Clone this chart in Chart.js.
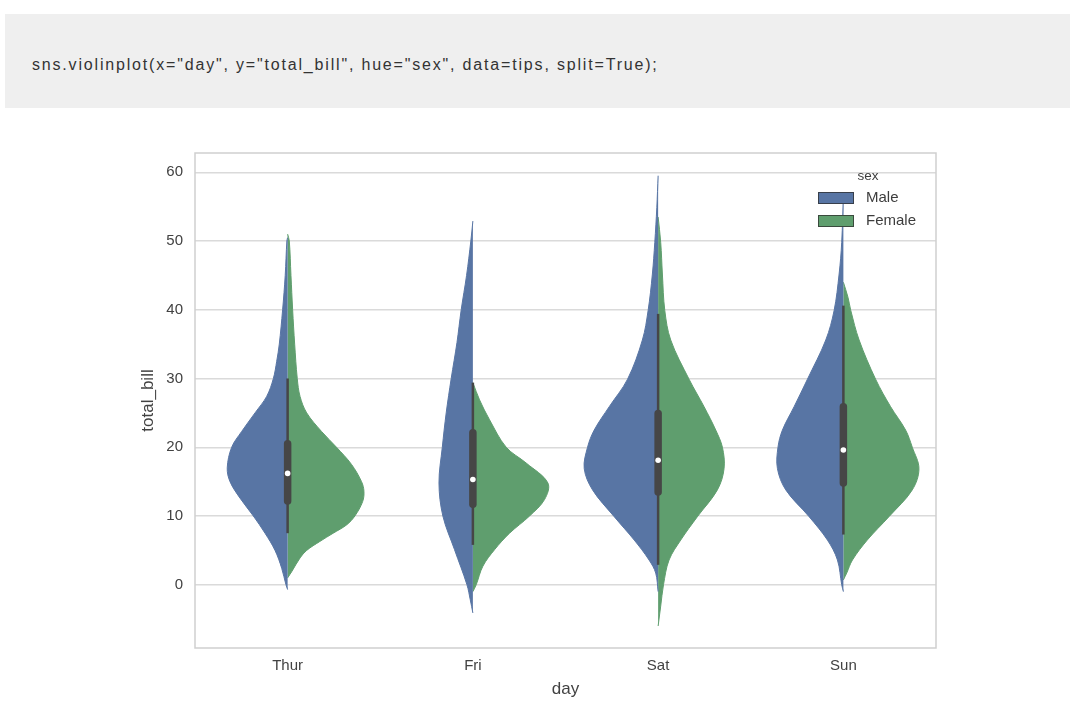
<!DOCTYPE html>
<html>
<head>
<meta charset="utf-8">
<script src="https://cdn.jsdelivr.net/npm/chart.js@4.4.1/dist/chart.umd.min.js"></script>
<style>
  body { margin: 0; background: #fff; width: 1080px; height: 714px; overflow: hidden; position: relative; font-family: "Liberation Sans", Arial, sans-serif; }
  #code { position: absolute; left: 5px; top: 14px; width: 1065px; height: 94px; background: #efefef; }
  #code span { position: absolute; left: 27px; top: 41px; line-height: 20px; font-size: 16px; letter-spacing: 1.82px; color: #333; white-space: pre; }
  #wrap { position: absolute; left: 100px; top: 140px; width: 900px; height: 574px; }
  .lg { position: absolute; color: #3d3d3d; font-size: 15px; line-height: 18px; }
  .patch { position: absolute; width: 34px; height: 10px; border: 1px solid rgba(45,45,45,0.75); }
</style>
</head>
<body>
<div id="code"><span>sns.violinplot(x="day", y="total_bill", hue="sex", data=tips, split=True);</span></div>
<div id="wrap"><canvas id="chart"></canvas></div>
<div id="legend"></div>
<script>
const days = ['Thur', 'Fri', 'Sat', 'Sun'];
const sexes = ['Male', 'Female'];
const yTicks = [0, 10, 20, 30, 40, 50, 60];

// half-violin outlines: [total_bill, half width in category units]
const thurMale = [[-0.7,0],[0,0.009],[2.4,0.032],[5,0.068],[7.5,0.122],[10,0.185],[12.6,0.257],[15,0.311],[17,0.326],[20,0.302],[22.3,0.248],[25,0.176],[27.4,0.113],[30,0.077],[32.5,0.059],[35,0.045],[40,0.027],[45,0.013],[50,0.004],[50.5,0]];
const thurFemale = [[1,0],[1.9,0.022],[3.9,0.067],[5,0.103],[6.3,0.174],[7.5,0.246],[8.7,0.318],[10,0.363],[12.1,0.405],[13.6,0.412],[15,0.399],[17.5,0.345],[20,0.264],[22.3,0.183],[25,0.103],[27.4,0.067],[30,0.052],[35,0.038],[40,0.027],[45,0.018],[50,0.009],[51,0]];
const friMale = [[-4.1,0],[-2.2,0.014],[0,0.032],[5.1,0.099],[10,0.162],[14.8,0.183],[20,0.165],[25,0.144],[30,0.117],[35.2,0.086],[40,0.063],[45,0.034],[50,0.011],[52.9,0]];
const friFemale = [[-1,0],[0,0.018],[2.7,0.054],[5.1,0.117],[7.5,0.198],[10,0.306],[12.4,0.387],[14.8,0.405],[17.7,0.288],[20,0.18],[24,0.09],[26.9,0.036],[29.4,0]];
const satMale = [[-1,0],[1.7,0.013],[3.6,0.049],[6.5,0.129],[9.9,0.237],[13.8,0.354],[16.9,0.399],[20,0.381],[22.5,0.345],[25.9,0.264],[29.9,0.165],[35.6,0.085],[39.9,0.054],[45.2,0.031],[49.8,0.018],[54.9,0.007],[59.5,0]];
const satFemale = [[-6,0],[-3.1,0.014],[0,0.029],[3.6,0.059],[6.5,0.122],[9.9,0.212],[13.8,0.32],[16.9,0.356],[20,0.347],[22.5,0.311],[25.9,0.248],[29.9,0.167],[35.6,0.068],[39.9,0.036],[45.2,0.023],[49.8,0.014],[53.5,0]];
const sunMale = [[-1,0],[0,0.009],[3.6,0.032],[6.5,0.086],[9.9,0.185],[13.8,0.311],[16.9,0.356],[20,0.353],[22.5,0.329],[25.9,0.266],[29.9,0.194],[35.6,0.095],[39.9,0.05],[45.2,0.023],[49.8,0.009],[56.7,0]];
const sunFemale = [[0.7,0],[1.7,0.018],[3.6,0.049],[6.5,0.129],[9.9,0.246],[13.8,0.372],[16.9,0.408],[20,0.372],[22.5,0.336],[25.9,0.255],[29.9,0.174],[35.6,0.085],[39.9,0.04],[41.8,0.025],[44,0]];

// inner box per day
const whiskerLow = [7.5, 5.8, 2.9, 7.3];
const quart1 = [12.2, 11.7, 13.5, 14.8];
const medians = [16.2, 15.3, 18.1, 19.6];
const quart3 = [20.5, 22.1, 24.9, 25.9];
const whiskerHigh = [30, 29.4, 39.4, 40.6];

const maleProfiles = [thurMale, friMale, satMale, sunMale];
const femaleProfiles = [thurFemale, friFemale, satFemale, sunFemale];
const colors = { Male: '#5875a4', Female: '#5f9e6e' };

Chart.defaults.font.family = '"Liberation Sans", Arial, sans-serif';
Chart.defaults.color = '#424242';

const datasets = [];

// violins
days.forEach((day, i) => {
    [[maleProfiles[i], -1, 'Male'], [femaleProfiles[i], 1, 'Female']].forEach(([prof, side, sex]) => {
        datasets.push({
            label: day + ' ' + sex,
            data: prof.map(([y, w]) => ({ x: i + side * w, y: y })),
            backgroundColor: colors[sex],
            borderColor: colors[sex],
            borderWidth: 1,
            fill: 'shape',
            tension: 0.35,
            pointRadius: 0,
            order: 3
        });
    });
});

// whiskers and boxes
days.forEach((day, i) => {
    datasets.push({
        label: day + ' whisker',
        data: [{ x: i, y: whiskerLow[i] }, { x: i, y: whiskerHigh[i] }],
        borderColor: '#464646',
        borderWidth: 2.5,
        pointRadius: 0,
        order: 2
    });
    datasets.push({
        label: day + ' box',
        data: [{ x: i, y: quart1[i] }, { x: i, y: quart3[i] }],
        borderColor: '#464646',
        borderWidth: 7.5,
        borderCapStyle: 'round',
        pointRadius: 0,
        order: 1
    });
});

datasets.push({
    label: 'median',
    data: days.map((d, i) => ({ x: i, y: medians[i] })),
    showLine: false,
    pointRadius: 2.8,
    pointBackgroundColor: '#ffffff',
    pointBorderWidth: 0,
    order: 0
});

// light frame around the plot area
const frame = {
    id: 'frame',
    beforeDatasetsDraw(chart) {
        const { ctx, chartArea: a } = chart;
        ctx.save();
        ctx.strokeStyle = '#cfcfcf';
        ctx.lineWidth = 1.5;
        ctx.strokeRect(a.left, a.top, a.right - a.left, a.bottom - a.top);
        ctx.restore();
    }
};

new Chart(document.getElementById('chart'), {
    type: 'line',
    data: { datasets: datasets },
    options: {
        responsive: true,
        maintainAspectRatio: false,
        animation: false,
        layout: { padding: { left: 0, right: 64, top: 13, bottom: 0 } },
        plugins: { legend: { display: false }, tooltip: { enabled: false } },
        events: [],
        scales: {
            x: {
                type: 'linear',
                min: -0.5,
                max: 3.5,
                afterBuildTicks: s => { s.ticks = days.map((d, i) => ({ value: i })); },
                afterFit: s => { s.height = 66; s.paddingLeft = 0; s.paddingRight = 0; },
                grid: { display: false, drawTicks: false },
                border: { display: false },
                ticks: { callback: v => days[v], font: { size: 15 }, padding: 9, maxRotation: 0, autoSkip: false },
                title: { display: true, text: 'day', font: { size: 17 }, padding: { top: 0, bottom: 14 } }
            },
            y: {
                min: -9.2,
                max: 62.8,
                afterBuildTicks: s => { s.ticks = yTicks.map(v => ({ value: v })); },
                afterFit: s => { s.width = 95; s.paddingTop = 0; s.paddingBottom = 0; },
                grid: { color: '#dadada', lineWidth: 1.4, drawTicks: false },
                border: { display: false },
                ticks: { font: { size: 15 }, padding: 12 },
                title: { display: true, text: 'total_bill', font: { size: 17 }, padding: { top: 38, bottom: 0 } }
            }
        }
    },
    plugins: [frame]
});

// legend (seaborn style, no frame)
const legend = document.getElementById('legend');
legend.innerHTML = '<div class="lg" style="left:848px;top:167px;width:40px;text-align:center;font-size:13.5px;">sex</div>' +
    sexes.map((s, k) =>
        '<div class="patch" style="left:818px;top:' + (192 + k * 23) + 'px;background:' + colors[s] + ';"></div>' +
        '<div class="lg" style="left:866px;top:' + (188 + k * 23) + 'px;">' + s + '</div>'
    ).join('');
</script>
</body>
</html>
